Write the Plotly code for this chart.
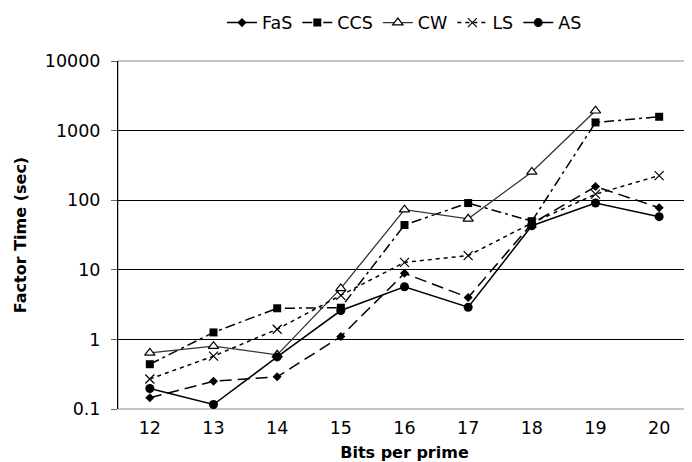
import plotly.graph_objects as go

bits = ["12", "13", "14", "15", "16", "17", "18", "19", "20"]

fas = [0.145, 0.25, 0.29, 1.1, 8.9, 4.0, 46, 157, 78]
ccs = [0.44, 1.26, 2.8, 2.85, 44, 91, 50, 1310, 1580]
cw = [0.64, 0.8, 0.6, 5.4, 73, 54, 255, 1930, None]
ls = [0.27, 0.575, 1.4, 4.3, 12.8, 16, 47, 122, 226]
as_ = [0.197, 0.116, 0.56, 2.6, 5.7, 2.9, 43, 91, 58]

y_ticks = [0.1, 1, 10, 100, 1000, 10000]
y_labels = ["0.1", "1", "10", "100", "1000", "10000"]

FONT = "DejaVu Sans, Verdana, sans-serif"
TICK = 17.5

fig = go.Figure()

fig.add_trace(go.Scatter(
    x=bits, y=fas, name="FaS", mode="lines+markers",
    line=dict(color="black", width=1.5, dash="12px,6px"),
    marker=dict(symbol="diamond", size=7, color="black")))
fig.add_trace(go.Scatter(
    x=bits, y=ccs, name="CCS", mode="lines+markers",
    line=dict(color="black", width=1.5, dash="10px,4px,3px,4px"),
    marker=dict(symbol="square", size=8, color="black")))
fig.add_trace(go.Scatter(
    x=bits, y=cw, name="CW", mode="lines+markers",
    line=dict(color="#333333", width=1.3),
    marker=dict(symbol="triangle-up", size=9, color="white",
                line=dict(color="black", width=1.2))))
fig.add_trace(go.Scatter(
    x=bits, y=ls, name="LS", mode="lines+markers",
    line=dict(color="black", width=1.5, dash="4px,4px"),
    marker=dict(symbol="x-thin-open", size=9, color="black",
                line=dict(color="black", width=1.2))))
fig.add_trace(go.Scatter(
    x=bits, y=as_, name="AS", mode="lines+markers",
    line=dict(color="black", width=1.5),
    marker=dict(symbol="circle", size=9, color="black")))

fig.update_layout(
    width=692, height=462,
    margin=dict(l=110, r=9, t=53, b=61, autoexpand=False),
    paper_bgcolor="white", plot_bgcolor="white",
    font=dict(family=FONT, size=TICK, color="black"),
    showlegend=True,
    legend=dict(orientation="h", x=0.5, xanchor="center", y=1.11, yanchor="middle",
                font=dict(size=TICK), itemwidth=30, bgcolor="rgba(0,0,0,0)"),
    shapes=[dict(type="rect", xref="paper", yref="paper", x0=0, x1=1, y0=0, y1=1,
                 line=dict(color="#888888", width=1), layer="below")],
)

fig.update_xaxes(
    type="category", range=[-0.5, 8.5],
    showgrid=False, showline=False, ticks="", zeroline=False,
    tickfont=dict(size=TICK), ticklabelstandoff=6,
    title=dict(text="<b>Bits per prime</b>", font=dict(size=16), standoff=10),
)
fig.update_yaxes(
    type="log", range=[-1, 4],
    tickvals=y_ticks, ticktext=y_labels,
    showgrid=True, gridcolor="#000000", gridwidth=1,
    showline=True, linecolor="black", linewidth=1,
    ticks="outside", ticklen=6, tickcolor="#666666",
    zeroline=False, tickfont=dict(size=TICK), ticklabelstandoff=7,
    title=dict(text="<b>Factor Time (sec)</b>", font=dict(size=16), standoff=14),
)

fig.write_html("out.html")
